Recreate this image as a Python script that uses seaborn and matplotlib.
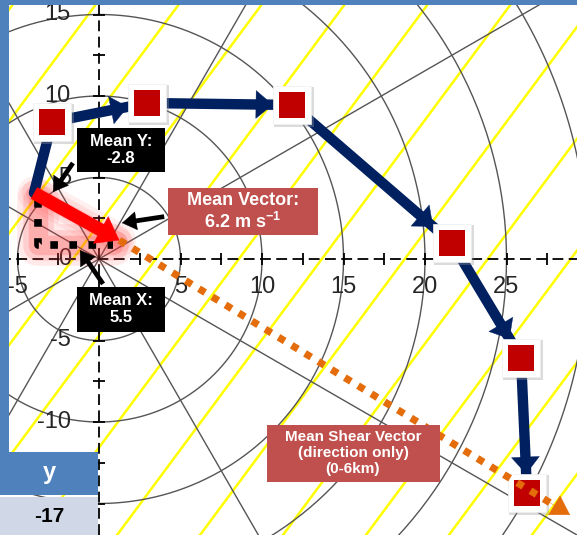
import numpy as np
import pandas as pd
import matplotlib
matplotlib.use("Agg")
import matplotlib.pyplot as plt
from matplotlib.patches import Rectangle
import seaborn as sns

# ---------------- data (m/s) ----------------
hodo_u = [-3.99, -2.88, 2.94, 11.84, 21.66, 25.89, 26.26]
hodo_v = [4.05, 8.41, 9.57, 9.45, 0.98, -6.07, -14.36]

mean_vec_tail = (-3.99, 4.05)
mean_vec_head = (1.25, 1.15)

dot_l_u = [-3.74, -3.74, 0.86]
dot_l_v = [3.62, 0.86, 0.86]

shear_tail = (1.25, 1.15)
shear_head = (28.9, -15.7)

ring_radii = [5, 10, 15, 20, 25, 30, 35]
radial_angles = [30, 60, 120, 150, 210, 240, 300, 330]
yellow_x0 = [-16.87, -11.78, -6.69, -1.60, 3.49, 8.58, 13.67, 18.76, 23.85, 28.94, 34.03, 39.12]
yellow_slope = 1.348

x_tick_labels = [-5, 5, 10, 15, 20, 25, 30]
y_tick_labels = [15, 10, 5, 0, -5, -10]
cross_ticks = [-15, -12.5, -10, -7.5, -5, -2.5, 2.5, 5, 7.5, 10, 12.5, 15, 17.5, 20, 22.5, 25, 27.5]

# pointer arrows (tail, head)
ptr_mean_y = ((-1.60, 5.89), (-2.82, 4.11))
ptr_mean_vec = ((4.0, 2.6), (1.41, 2.21))
ptr_mean_x = ((0.25, -1.53), (-1.17, 0.55))

table_header = "y"
table_value = "-17"

# ---------------- figure ----------------
sns.set_theme(style="white")
plt.rcParams['font.family'] = ['Liberation Sans', 'DejaVu Sans']
plt.rcParams['mathtext.fontset'] = 'custom'
plt.rcParams['mathtext.bf'] = 'Liberation Sans:bold'

W, H = 577, 535
SC = 16.3  # pixels per m/s
fig = plt.figure(figsize=(W / 100, H / 100), dpi=100)
ax = fig.add_axes([0, 0, 1, 1])
ax.set_xlim(-99 / SC, (W - 99) / SC)
ax.set_ylim(-(H - 259) / SC, 259 / SC)
ax.axis('off')

NAVY = '#002060'
DARK_RED = '#C00000'
BOX_RED = '#C0504D'
ORANGE = '#E46C0A'
GRID = '#555555'


def head(tip, direction, color, length, width, z):
    """arrowhead only (sizes in points)"""
    d = np.asarray(direction, float)
    d = d / np.linalg.norm(d)
    tip = np.asarray(tip, float)
    ax.annotate('', xy=tuple(tip), xytext=tuple(tip - d * 1.5),
                arrowprops=dict(arrowstyle=f'-|>,head_length={length},head_width={width}',
                                mutation_scale=1, lw=0.3, color=color, shrinkA=0, shrinkB=0),
                annotation_clip=False, zorder=z)


# yellow lines
ys = np.array([-20, 20])
for c in yellow_x0:
    ax.plot(c + ys / yellow_slope, ys, color='#FFFF00', lw=1.8, zorder=1)

# range rings
th = np.linspace(0, 2 * np.pi, 400)
rings = pd.DataFrame({
    'u': np.concatenate([r * np.cos(th) for r in ring_radii]),
    'v': np.concatenate([r * np.sin(th) for r in ring_radii]),
    'ring': np.repeat(ring_radii, len(th)),
})
sns.lineplot(data=rings, x='u', y='v', units='ring', estimator=None, sort=False,
             color=GRID, lw=1.0, ax=ax, zorder=2, legend=False)

# radial lines
for a in radial_angles:
    t = np.deg2rad(a)
    ax.plot([0, 45 * np.cos(t)], [0, 45 * np.sin(t)], color=GRID, lw=1.0, zorder=2)

# dashed axes with crosses
ax.axhline(0, color='black', lw=1.3, dashes=(6, 3), zorder=3)
ax.axvline(0, color='black', lw=1.3, dashes=(6, 3), zorder=3)
ax.plot(cross_ticks, np.zeros(len(cross_ticks)), ls='none', marker='|', ms=9, mew=1.3, color='black', zorder=3)
ax.plot(np.zeros(len(cross_ticks)), cross_ticks, ls='none', marker='_', ms=9, mew=1.3, color='black', zorder=3)

lab_off = 28 / SC
for v in x_tick_labels:
    ax.text(v, -lab_off, str(v), ha='center', va='center', fontsize=17, color='#262626', zorder=3)
for v in y_tick_labels:
    ax.text(-1.72, v, str(v), ha='right', va='center', fontsize=17, color='#262626', zorder=3)

# glow behind mean components
for lw_, al in [(30, 0.10), (22, 0.14), (14, 0.2)]:
    ax.plot(dot_l_u, dot_l_v, color='#FF3030', lw=lw_, alpha=al, solid_capstyle='round',
            solid_joinstyle='round', zorder=4)
    ax.plot([mean_vec_tail[0], mean_vec_head[0]], [mean_vec_tail[1], mean_vec_head[1]],
            color='#FF3030', lw=lw_ * 0.8, alpha=al * 0.7, solid_capstyle='round', zorder=4)

# hodograph path
path = pd.DataFrame({'u': hodo_u, 'v': hodo_v})
sns.lineplot(data=path, x='u', y='v', sort=False, estimator=None, color=NAVY, lw=7.5,
             ax=ax, zorder=5)
half_box = 19 / SC
for i in range(1, len(hodo_u) - 1):
    d = np.array([hodo_u[i + 1] - hodo_u[i], hodo_v[i + 1] - hodo_v[i]])
    du = d / np.linalg.norm(d)
    tip = np.array([hodo_u[i + 1], hodo_v[i + 1]]) - du * half_box / max(abs(du[0]), abs(du[1]))
    head(tip, d, NAVY, 12, 10, 5)

# boxes around hodograph points
box_pts = pd.DataFrame({'u': hodo_u[1:], 'v': hodo_v[1:]})
ax.plot(box_pts['u'] + 0.1, box_pts['v'] - 0.1, ls='none', marker='s', ms=29, color='#9a9a9a',
        alpha=0.35, mew=0, zorder=6)
sns.scatterplot(data=box_pts, x='u', y='v', marker='s', s=27 ** 2, color='white',
                edgecolor='#eeeeee', linewidth=0.5, ax=ax, zorder=7)
sns.scatterplot(data=box_pts, x='u', y='v', marker='s', s=19 ** 2, color=DARK_RED,
                edgecolor='none', ax=ax, zorder=8)

# dotted mean components
ax.plot(dot_l_u, dot_l_v, color='black', lw=5.5, dashes=(1, 1.5), solid_capstyle='butt', zorder=9)

# mean vector
mv = np.array(mean_vec_head) - np.array(mean_vec_tail)
mv_u = mv / np.linalg.norm(mv)
mv_base = np.array(mean_vec_head) - mv_u * 18 / SC
ax.plot([mean_vec_tail[0], mv_base[0]], [mean_vec_tail[1], mv_base[1]], color='#FF0000', lw=9.5,
        solid_capstyle='butt', zorder=10)
head(mean_vec_head, mv, '#FF0000', 15, 11, 10)

# mean shear direction
d = np.array(shear_head) - np.array(shear_tail)
d_unit = d / np.linalg.norm(d)
line_end = np.array(shear_head) - d_unit * 1.1
ax.plot([shear_tail[0], line_end[0]], [shear_tail[1], line_end[1]], color=ORANGE, lw=5.2,
        dashes=(1, 1.15), zorder=11)
head(shear_head, d, ORANGE, 13, 8, 11)

# pointer arrows
for tail, tip in [ptr_mean_y, ptr_mean_vec, ptr_mean_x]:
    pd_ = np.array(tip) - np.array(tail)
    pu = pd_ / np.linalg.norm(pd_)
    base = np.array(tip) - pu * 10 / SC
    ax.plot([tail[0], base[0]], [tail[1], base[1]], color='black', lw=3.4, solid_capstyle='butt', zorder=12)
    head(tip, pd_, 'black', 10, 6.5, 12)


# ---------------- labels ----------------
def px_box(x0, y0, x1, y1, color, z=5):
    fig.add_artist(Rectangle((x0 / W, 1 - y1 / H), (x1 - x0) / W, (y1 - y0) / H,
                             transform=fig.transFigure, facecolor=color, edgecolor='none', zorder=z))


def px_text(x, y, s, size, color='white', z=6):
    fig.text(x / W, 1 - y / H, s, ha='center', va='center', fontsize=size, color=color,
             fontweight='bold', linespacing=1.15, zorder=z)


px_box(77, 128, 165, 172, 'black')
px_text(121, 150, 'Mean Y:\n-2.8', 12)

px_box(168, 188, 318, 235, BOX_RED)
px_text(243, 212, 'Mean Vector:\n6.2 m s$^{\\mathbf{-1}}$', 13)

px_box(77, 287, 165, 332, 'black')
px_text(121, 309, 'Mean X:\n5.5', 12)

px_box(267, 425, 440, 482, BOX_RED)
px_text(353, 453, 'Mean Shear Vector\n(direction only)\n(0-6km)', 11)

# table in lower-left corner
px_box(0, 452, 98, 495, '#4F81BD')
px_text(49, 472, table_header, 17)
px_box(0, 497, 98, 535, '#D0D8E8')
px_text(49, 516, table_value, 15, color='black')

# slide border
px_box(0, 0, 9, 452, '#4F81BD', z=4)
px_box(0, 0, W, 5, '#4F81BD', z=4)

fig.savefig('out.png', dpi=100)
